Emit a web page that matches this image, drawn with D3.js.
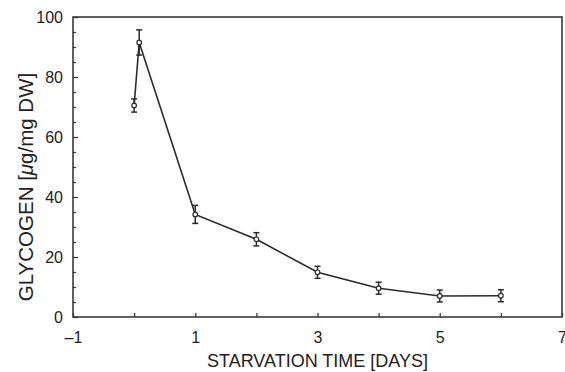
<!DOCTYPE html>
<html>
<head>
<meta charset="utf-8">
<script src="https://cdn.jsdelivr.net/npm/d3@7"></script>
<style>
  html, body { margin: 0; padding: 0; background: #fff; }
  svg { display: block; }
  text { font-family: "Liberation Sans", Arial, sans-serif; fill: #222; }
</style>
</head>
<body>
<svg id="chart" width="565" height="372"></svg>
<script>
// Glycogen content during starvation (mean ± error)
const timeDays   = [0, 0.083, 1, 2, 3, 4, 5, 6];
const glycogen   = [70.5, 91.5, 34.2, 25.9, 14.9, 9.6, 7.0, 7.1];
const errors     = [2.2, 4.2, 3.0, 2.2, 2.0, 2.0, 2.0, 2.0];
const xTickLabels = [-1, 1, 3, 5, 7];
const yTickLabels = [0, 20, 40, 60, 80, 100];

const data = timeDays.map((t, i) => ({ t, v: glycogen[i], e: errors[i] }));

const svg = d3.select("#chart");
const margin = { top: 17, right: 3, bottom: 55, left: 73 };
const W = 565, H = 372;

const x = d3.scaleLinear().domain([-1, 7]).range([margin.left, W - margin.right]);
const y = d3.scaleLinear().domain([0, 100]).range([H - margin.bottom, margin.top]);

const ink = "#2b2b2b";

// frame
svg.append("rect")
  .attr("x", x(-1)).attr("y", y(100))
  .attr("width", x(7) - x(-1)).attr("height", y(0) - y(100))
  .attr("fill", "none").attr("stroke", "#3a3a3a").attr("stroke-width", 1.6);

// x axis: inward ticks at each day, labels at odd days
const xAxis = d3.axisBottom(x)
  .tickValues(d3.range(-1, 8))
  .tickSize(-4)
  .tickFormat(d => xTickLabels.includes(d) ? (d < 0 ? "\u2013" + Math.abs(d) : d) : "");
const gx = svg.append("g").attr("transform", `translate(0,${y(0)})`).call(xAxis);
gx.select(".domain").remove();
gx.selectAll(".tick line").attr("stroke", "#3a3a3a").attr("stroke-width", 1.3);
gx.selectAll(".tick text").attr("dy", "1.45em").style("font-size", "16px").attr("fill", "#222");

// y axis: inward ticks every 5, labels every 20
const yAxis = d3.axisLeft(y)
  .tickValues(d3.range(0, 101, 5))
  .tickSize(-3)
  .tickFormat(d => yTickLabels.includes(d) ? d : "");
const gy = svg.append("g").attr("transform", `translate(${x(-1)},0)`).call(yAxis);
gy.select(".domain").remove();
gy.selectAll(".tick line").attr("stroke", "#3a3a3a").attr("stroke-width", 1.3)
  .attr("x2", d => yTickLabels.includes(d) ? 5 : 3);
gy.selectAll(".tick text").attr("x", -10).style("font-size", "16px").attr("fill", "#222");

// axis titles
svg.append("text")
  .attr("x", (x(-1) + x(7)) / 2).attr("y", 367)
  .attr("text-anchor", "middle").style("font-size", "18px")
  .text("STARVATION TIME [DAYS]");

const yl = svg.append("text")
  .attr("transform", `translate(33,187) rotate(-90)`)
  .attr("text-anchor", "middle").style("font-size", "20.5px");
yl.append("tspan").text("GLYCOGEN [");
yl.append("tspan").style("font-style", "italic").text("\u03bc");
yl.append("tspan").text("g/mg DW]");

// connecting line
svg.append("path")
  .datum(data)
  .attr("fill", "none").attr("stroke", ink).attr("stroke-width", 1.6)
  .attr("d", d3.line().x(d => x(d.t)).y(d => y(d.v)));

// error bars
const eb = svg.append("g").selectAll("g").data(data).join("g")
  .attr("stroke", ink).attr("stroke-width", 1.5);
eb.append("line")
  .attr("x1", d => x(d.t)).attr("x2", d => x(d.t))
  .attr("y1", d => y(d.v + d.e)).attr("y2", d => y(d.v - d.e));
eb.append("line")
  .attr("x1", d => x(d.t) - 3).attr("x2", d => x(d.t) + 3)
  .attr("y1", d => y(d.v + d.e)).attr("y2", d => y(d.v + d.e));
eb.append("line")
  .attr("x1", d => x(d.t) - 3).attr("x2", d => x(d.t) + 3)
  .attr("y1", d => y(d.v - d.e)).attr("y2", d => y(d.v - d.e));

// open circle markers
svg.append("g").selectAll("circle").data(data).join("circle")
  .attr("cx", d => x(d.t)).attr("cy", d => y(d.v)).attr("r", 2.3)
  .attr("fill", "#fff").attr("stroke", ink).attr("stroke-width", 1.2);
</script>
</body>
</html>
